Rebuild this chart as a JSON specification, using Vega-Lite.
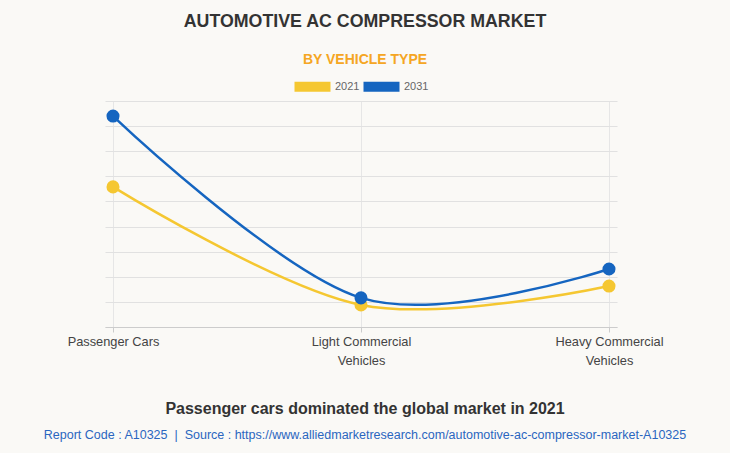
{
  "$schema": "https://vega.github.io/schema/vega-lite/v6.json",
  "background": "#faf9f6",
  "padding": {"left": 43, "right": 44, "top": 13, "bottom": 13},
  "title": {
    "text": "AUTOMOTIVE AC COMPRESSOR MARKET",
    "subtitle": "BY VEHICLE TYPE",
    "anchor": "middle",
    "dx": 0,
    "font": "Liberation Sans",
    "fontSize": 17.8,
    "fontWeight": "bold",
    "color": "#333333",
    "subtitleFont": "Liberation Sans",
    "subtitleFontSize": 14,
    "subtitleFontWeight": "bold",
    "subtitleColor": "#f5a623",
    "subtitlePadding": 22,
    "offset": 14
  },
  "data": {
    "values": [
      {"segment": "Passenger Cars", "year": "2021", "value": 5.58},
      {"segment": "Passenger Cars", "year": "2031", "value": 8.4},
      {"segment": "Light Commercial Vehicles", "year": "2021", "value": 0.88},
      {"segment": "Light Commercial Vehicles", "year": "2031", "value": 1.16},
      {"segment": "Heavy Commercial Vehicles", "year": "2021", "value": 1.63},
      {"segment": "Heavy Commercial Vehicles", "year": "2031", "value": 2.31}
    ]
  },
  "vconcat": [
    {
      "width": 512,
      "height": 226,
      "title": {
        "text": "Passenger cars dominated the global market in 2021",
        "subtitle": "Report Code : A10325 \u00a0|\u00a0 Source : https://www.alliedmarketresearch.com/automotive-ac-compressor-market-A10325",
        "orient": "bottom",
        "anchor": "middle",
        "dx": 4,
        "font": "Liberation Sans",
        "fontSize": 16,
        "fontWeight": "bold",
        "color": "#333333",
        "subtitleFont": "Liberation Sans",
        "subtitleFontSize": 12.5,
        "subtitleColor": "#2a66c0",
        "subtitlePadding": 12,
        "offset": 34
      },
      "encoding": {
        "x": {
          "field": "segment",
          "type": "nominal",
          "sort": ["Passenger Cars", "Light Commercial Vehicles", "Heavy Commercial Vehicles"],
          "scale": {"type": "point", "padding": 0.0323},
          "axis": {
            "title": null,
            "labelAngle": 0,
            "labelFont": "Liberation Sans",
            "labelFontSize": 12.8,
            "labelColor": "#444444",
            "labelLineHeight": 19,
            "labelPadding": 3,
            "labelExpr": "datum.label == 'Passenger Cars' ? datum.label : [replace(datum.label, ' Vehicles', ''), 'Vehicles']",
            "domainColor": "#cccccc",
            "tickColor": "#cccccc",
            "tickSize": 5,
            "grid": true,
            "gridColor": "#e6e6e6"
          }
        },
        "y": {
          "field": "value",
          "type": "quantitative",
          "scale": {"domain": [0, 9], "nice": false},
          "axis": {
            "title": null,
            "labels": false,
            "ticks": false,
            "domain": false,
            "tickCount": 9,
            "grid": true,
            "gridColor": "#e1e1e1"
          }
        },
        "color": {
          "field": "year",
          "type": "nominal",
          "scale": {"domain": ["2021", "2031"], "range": ["#f5c731", "#1565c0"]},
          "legend": {
            "title": null,
            "orient": "none",
            "direction": "horizontal",
            "legendX": 189,
            "legendY": -20,
            "symbolType": "M-1,-1H6.2V1H-1Z",
            "symbolSize": 100,
            "symbolStrokeWidth": 0,
            "symbolOpacity": 1,
            "labelOffset": 30,
            "labelFont": "Liberation Sans",
            "labelFontSize": 11,
            "labelColor": "#666666",
            "columnPadding": 3
          }
        }
      },
      "layer": [
        {"mark": {"type": "line", "interpolate": "cardinal", "strokeWidth": 2.5}},
        {"mark": {"type": "point", "filled": true, "size": 170, "opacity": 1}}
      ]
    }
  ],
  "config": {"view": {"stroke": null}}
}
